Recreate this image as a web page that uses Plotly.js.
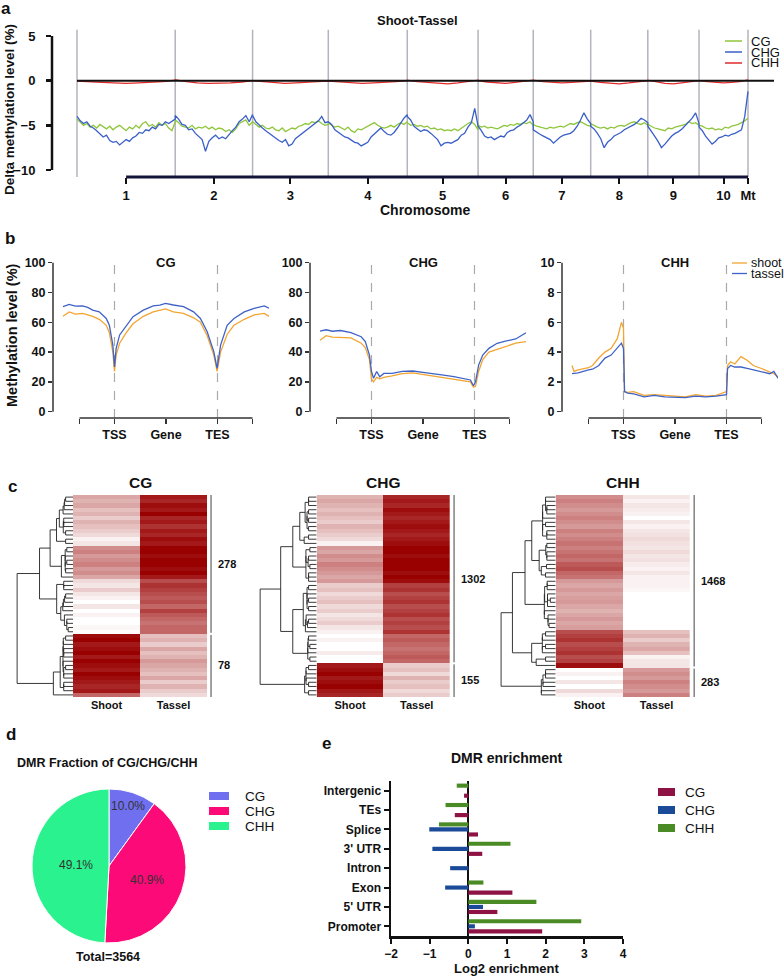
<!DOCTYPE html>
<html>
<head>
<meta charset="utf-8">
<script src="https://cdn.plot.ly/plotly-3.0.1.min.js"></script>
<style>
  body { margin: 0; background: #fff; }
  #chart { width: 784px; height: 976px; }
</style>
</head>
<body>
<div id="chart"></div>
<script>
// ---------- panel a : delta methylation (shoot - tassel) along the genome ----------
let chromLengths = [301, 237, 232, 242, 217, 169, 176, 175, 157, 150]; // Mb
let chromLabels = ['1', '2', '3', '4', '5', '6', '7', '8', '9', '10', 'Mt'];
let contextNames = ['CG', 'CHG', 'CHH'];

let cgDelta = [
  [-4.3,-4.6,-5.0,-4.8,-5.2,-5.0,-5.3,-4.9,-5.2,-5.4,-5.1,-5.5,-5.2,-5.0,-5.3,-5.6,-5.2,-5.4,-5.0,-5.3,-4.8,-4.6,-5.1,-4.9,-5.2,-4.7,-5.0,-4.8,-5.3,-5.6,-4.6],
  [-4.4,-4.7,-5.1,-5.2,-5.3,-5.0,-5.4,-5.2,-5.3,-5.1,-5.4,-5.2,-5.5,-5.3,-5.4,-5.7,-5.5,-5.8,-5.4,-4.8,-4.6,-4.4,-5.0,-4.6],
  [-4.6,-4.9,-5.2,-5.0,-5.3,-5.4,-5.2,-5.5,-5.6,-5.3,-5.7,-5.5,-5.3,-5.4,-5.1,-5.0,-4.8,-4.9,-4.6,-4.7,-4.5,-4.8,-5.0,-4.9],
  [-4.7,-5.0,-5.2,-5.1,-5.3,-5.5,-5.2,-5.6,-5.8,-5.4,-5.5,-5.3,-5.1,-4.9,-4.7,-5.0,-5.2,-5.3,-5.2,-5.0,-5.2,-4.9,-4.7,-4.9,-4.6],
  [-4.7,-5.0,-4.9,-5.1,-5.0,-5.2,-5.1,-5.4,-5.3,-5.5,-5.4,-5.6,-5.5,-5.6,-5.4,-5.6,-5.3,-5.0,-4.8,-4.6,-4.9,-5.5],
  [-5.0,-5.2,-5.1,-5.3,-5.2,-5.3,-5.4,-5.2,-5.0,-5.1,-4.9,-5.0,-4.8,-4.9,-4.7,-4.8,-4.6,-5.0],
  [-4.9,-5.1,-5.2,-5.3,-5.4,-5.2,-5.3,-5.2,-5.1,-5.2,-5.0,-4.8,-4.9,-4.7,-4.6,-4.8,-5.0,-5.1],
  [-4.8,-5.0,-5.2,-5.3,-5.2,-5.4,-5.2,-5.3,-5.1,-5.0,-5.1,-4.9,-4.7,-4.6,-4.8,-4.9,-4.7,-5.0],
  [-4.9,-5.1,-5.3,-5.4,-5.5,-5.6,-5.3,-5.4,-5.2,-5.1,-5.0,-4.9,-4.6,-4.8,-4.7,-5.0],
  [-5.0,-5.1,-5.3,-5.4,-5.3,-5.5,-5.4,-5.5,-5.2,-5.3,-5.1,-5.0,-4.9,-4.7,-4.5,-4.2]
];
let chgDelta = [
  [-4.0,-4.5,-4.8,-4.6,-5.1,-5.3,-5.6,-5.9,-6.3,-6.1,-6.7,-6.9,-6.8,-7.2,-6.9,-6.6,-6.8,-6.4,-6.2,-5.8,-5.9,-5.5,-5.6,-5.2,-5.4,-4.9,-5.0,-4.6,-4.8,-4.5,-4.3],
  [-3.9,-4.3,-4.9,-5.0,-5.5,-5.4,-5.9,-6.3,-6.6,-7.9,-6.8,-6.4,-6.1,-6.5,-6.3,-6.5,-6.0,-5.6,-5.2,-4.6,-4.3,-3.9,-4.6,-3.8],
  [-3.9,-4.6,-5.0,-5.3,-5.6,-5.9,-6.2,-6.5,-6.7,-6.9,-6.6,-7.3,-7.1,-6.5,-6.2,-5.9,-5.6,-5.3,-5.1,-4.7,-4.5,-4.0,-4.7,-4.6],
  [-4.6,-4.9,-5.5,-5.8,-6.1,-6.3,-6.4,-6.7,-6.9,-7.0,-7.3,-7.1,-6.9,-6.3,-6.0,-5.6,-5.3,-5.7,-6.0,-6.1,-5.8,-5.3,-4.7,-4.2,-3.8],
  [-4.0,-4.4,-5.1,-5.4,-5.7,-5.5,-5.6,-5.9,-6.3,-6.6,-7.3,-7.0,-6.9,-7.0,-6.8,-6.6,-6.1,-5.9,-5.2,-4.7,-3.1,-5.0],
  [-5.1,-5.6,-6.2,-6.4,-6.3,-6.6,-6.4,-6.2,-6.3,-5.8,-5.6,-5.5,-5.2,-5.0,-4.7,-4.4,-3.8,-4.6],
  [-5.5,-5.8,-6.0,-6.2,-6.4,-6.6,-7.0,-6.6,-6.3,-6.1,-6.0,-5.9,-5.6,-5.1,-4.4,-3.6,-4.3,-4.8],
  [-5.1,-5.4,-5.9,-6.5,-7.5,-6.9,-6.6,-6.2,-6.0,-5.8,-5.5,-5.3,-5.1,-4.9,-4.6,-4.2,-4.4,-4.7],
  [-5.1,-5.6,-6.2,-6.8,-7.5,-7.1,-6.6,-6.2,-5.9,-5.7,-5.4,-5.0,-4.6,-4.2,-3.6,-4.8],
  [-5.2,-5.6,-6.2,-6.6,-7.1,-6.8,-6.4,-6.3,-6.1,-6.2,-6.0,-5.9,-5.7,-5.5,-4.0,-1.2]
];
let chhDelta = [
  [-0.05,-0.15,-0.2,-0.25,-0.3,-0.25,-0.2,-0.1,0.05],
  [0.1,-0.1,-0.25,-0.3,-0.3,-0.25,-0.15,-0.05],
  [0.0,-0.1,-0.2,-0.3,-0.25,-0.15,-0.1,-0.05],
  [-0.05,-0.15,-0.25,-0.3,-0.25,-0.2,-0.1,0.0],
  [0.05,-0.1,-0.2,-0.3,-0.35,-0.25,-0.1,0.05],
  [0.0,-0.15,-0.25,-0.3,-0.2,-0.1,0.0],
  [0.05,-0.1,-0.2,-0.25,-0.2,-0.15,-0.05],
  [-0.05,-0.2,-0.3,-0.35,-0.25,-0.15,0.0],
  [0.05,-0.15,-0.3,-0.35,-0.25,-0.1,0.0],
  [0.0,-0.1,-0.2,-0.25,-0.2,-0.1,0.1]
];

// ---------- panel b : metaplots over genes ----------
let profileLabels = ['TSS', 'Gene', 'TES'];
let tissueNames = ['shoot', 'tassel'];
let cgPos =     [0,3,6,9.5,12,14.4,17.6,21,22.5,24.2,25,25.8,27.5,30.7,34,39,43.8,47,49.8,53.6,58.5,63.4,66.7,70,73.2,74.8,76.5,79.7,83,88,92.8,97.7,100];
let cgTassel =  [70.5,72,70.8,71,70,68.2,67,62.6,58,44.7,30,42.5,51.5,58,63.8,68.2,71,71.5,72.7,71.6,70.5,67,62.6,53.7,40.3,29,44.7,58,62.6,67,69.4,71,69.4];
let cgShoot =   [64,67,65.5,66,65,64,62,58,53,40,27,38,46,53,59,64,67,68,69,67,66,63,60,51,38,27,40,52,58,62,65,66,64];
let chgPos =    [0,3,6,10,15,20,22,24,25,26,27.5,29,31,35,40,45,50,55,60,65,70,73,74.5,75.5,77,79,82,86,90,95,100];
let chgTassel = [54,55,54,54.5,53,50.3,47,38,27,22.4,27,23.5,25.7,25.7,27,27.3,26.4,25.7,24.6,23.5,22.4,21.3,17.4,20,31.3,38,42.5,45.9,47.4,48.8,53];
let chgShoot =  [48,51,50,50,49.5,46,43,35,22,20,23,22,23,24,25.5,26,25,24,23,22,21,20,16.5,17,27,35,40,42,44,46,47];
let chhPos =    [0,1,3,8,10,13,16,19,22,24,25,25.5,27,30,35,40,45,50,55,60,65,70,74,75,75.5,77,79,82,85,88,92,96,98,100];
let chhShoot =  [3.1,2.7,2.8,2.95,3.1,3.6,4.0,4.25,4.9,6.0,5.6,1.34,1.3,1.35,1.1,1.15,1.1,1.05,1.0,1.15,1.05,1.1,1.3,1.35,3.1,3.35,3.2,3.7,3.45,3.1,2.9,2.7,2.55,2.35];
let chhTassel = [2.55,2.55,2.6,2.8,2.85,3.1,3.6,3.8,4.25,4.6,4.25,1.35,1.25,1.2,1.0,1.1,1.0,1.0,0.95,1.05,1.0,1.05,1.1,1.15,2.9,3.1,3.0,3.0,2.9,2.8,2.7,2.55,2.7,2.25];

// ---------- panel c : DMR heatmaps (rows top to bottom) ----------
let heatColumns = ['Shoot', 'Tassel'];
let cgShootRows =  [0.35,0.3,0.35,0.25,0.3,0.2,0.3,0.25,0.2,0.15,0.05,0.1,0.45,0.5,0.4,0.45,0.5,0.4,0.45,0.35,0.15,0.1,0.2,0.1,0.05,0,0.1,0,0.05,0,0,0.03,0,0.95,1,0.9,0.95,1,0.9,1,0.95,0.9,1,0.95,0.9,0.85,0.9,0.6];
let cgTasselRows = [0.9,0.85,0.95,0.9,1,0.85,0.9,0.8,0.9,0.85,0.95,0.9,1,1,0.95,1,1,0.95,1,0.9,0.7,0.8,0.75,0.7,0.65,0.7,0.6,0.75,0.65,0.6,0.55,0.6,0.6,0.25,0.3,0.2,0.35,0.25,0.3,0.4,0.35,0.3,0.25,0.35,0.2,0.3,0.2,0.15];
let cgGroupRows = [33, 15];
let cgGroupCounts = [278, 78];
let chgShootRows =  [0.3,0.35,0.3,0.25,0.3,0.25,0.2,0.3,0.25,0.2,0.15,0.05,0.4,0.35,0.45,0.4,0.5,0.45,0.4,0.35,0.4,0.2,0.25,0.15,0.2,0.25,0.15,0.2,0.1,0.15,0.2,0.1,0.05,0,0.05,0,0,0.08,0,0,0.9,0.95,1,0.9,0.95,1,0.9,0.85];
let chgTasselRows = [0.85,0.9,0.85,0.95,0.9,0.85,0.9,0.95,0.9,0.85,0.9,0.95,1,1,0.95,1,1,1,0.95,1,0.95,0.75,0.8,0.7,0.75,0.8,0.7,0.75,0.8,0.7,0.75,0.7,0.8,0.6,0.65,0.6,0.55,0.6,0.65,0.6,0.2,0.25,0.15,0.3,0.2,0.25,0.15,0.2];
let chgGroupRows = [40, 8];
let chgGroupCounts = [1302, 155];
let chhShootRows =  [0.45,0.5,0.45,0.4,0.45,0.5,0.45,0.4,0.5,0.45,0.5,0.55,0.5,0.55,0.6,0.55,0.65,0.7,0.6,0.55,0.4,0.35,0.4,0.35,0.38,0.4,0.35,0.3,0.35,0.4,0.35,0.38,0.7,0.75,0.8,0.7,0.75,0.8,0.7,0.75,0.95,0,0.05,0,0.1,0,0.15,0.05];
let chhTasselRows = [0.1,0.05,0.1,0.08,0.05,0,0.1,0.05,0.1,0.12,0.15,0.12,0.1,0.15,0.1,0.12,0.08,0.05,0.1,0.05,0.05,0.05,0.03,0,0,0,0,0,0,0,0,0,0.25,0.3,0.2,0.3,0.35,0.25,0.05,0.1,0.1,0.4,0.45,0.4,0.5,0.45,0.4,0.5];
let chhGroupRows = [41, 7];
let chhGroupCounts = [1468, 283];

// ---------- panel d : DMR fraction ----------
let dmrContexts = ['CG', 'CHG', 'CHH'];
let dmrCounts = [356, 1457, 1751];
let pieLabelRadius = [0.82, 0.53, 0.43]; // where each % label sits, fraction of radius

// ---------- panel e : DMR enrichment (bottom to top) ----------
let enrichFeatures = ['Promoter', "5' UTR", 'Exon', 'Intron', "3' UTR", 'Splice', 'TEs', 'Intergenic'];
let cgEnrich =  [1.91, 0.75, 1.14, 0, 0.36, 0.25, -0.35, -0.11];
let chgEnrich = [0.17, 0.38, -0.60, -0.47, -0.93, -1.01, 0, 0];
let chhEnrich = [2.92, 1.76, 0.39, 0, 1.09, -0.76, -0.59, -0.30];
let enrichTicks = [-2, -1, 0, 1, 2, 3, 4];

// ---------- helpers ----------
const W = 784, H = 976;
const FONT = 'Liberation Sans, Arial, Helvetica, sans-serif';
function px(v) { return v / W; }
function py(v) { return 1 - v / H; }
function frac(v, r) { return (v - r[0]) / (r[1] - r[0]); }

let traces = [];
let shapes = [];
let annotations = [];
let layout = {
  width: W, height: H,
  margin: {l: 0, r: 0, t: 0, b: 0},
  paper_bgcolor: '#fff', plot_bgcolor: 'rgba(0,0,0,0)',
  showlegend: false,
  font: {family: FONT, color: '#111'},
  barmode: 'group', bargap: 0.22, bargroupgap: 0.18
};

function text(t, x, y, size, extra) {
  let a = {text: t, x: px(x), y: py(y), xref: 'paper', yref: 'paper', showarrow: false,
    font: {family: FONT, size: size, color: '#111'}, xanchor: 'center', yanchor: 'middle'};
  Object.assign(a, extra || {});
  annotations.push(a);
}
function boldTicks(size) {
  return {family: FONT, size: size, color: '#111', weight: 'bold'};
}

// panel letters
text('<b>a</b>', 6, 8, 17);
text('<b>b</b>', 10, 239, 17);
text('<b>c</b>', 12, 486, 17);
text('<b>d</b>', 11, 734, 17);
text('<b>e</b>', 326, 743, 17);

// ================= panel a =================
let chromStarts = [0];
for (let i = 0; i < chromLengths.length; i++) {
  chromStarts.push(chromStarts[i] + chromLengths[i]);
}
let genomeEnd = chromStarts[chromStarts.length - 1];
let chromCenters = [];
for (let i = 0; i < chromLengths.length; i++) {
  chromCenters.push(chromStarts[i] + chromLengths[i] / 2);
}
chromCenters.push(genomeEnd); // Mt

function genomeTrace(perChrom) {
  let xs = [], ys = [];
  for (let c = 0; c < perChrom.length; c++) {
    let vals = perChrom[c];
    for (let i = 0; i < vals.length; i++) {
      xs.push(chromStarts[c] + chromLengths[c] * i / (vals.length - 1));
      ys.push(vals[i]);
    }
  }
  return {x: xs, y: ys};
}

let aColors = ['#8fc63c', '#3a5fc8', '#e02a2a'];
let aSeries = [cgDelta, chgDelta, chhDelta];
let aRangeX = [-76.6, 2135.7];
let aRangeY = [-10.784, 5.896];
for (let k = 0; k < aSeries.length; k++) {
  let g = genomeTrace(aSeries[k]);
  traces.push({type: 'scatter', mode: 'lines', x: g.x, y: g.y, xaxis: 'x', yaxis: 'y',
    name: contextNames[k], line: {color: aColors[k], width: 1.3}, hoverinfo: 'skip'});
}
layout.xaxis = {domain: [px(52), px(774)], range: aRangeX, anchor: 'y',
  tickvals: chromCenters, ticktext: chromLabels, ticks: 'outside', ticklen: 6, tickwidth: 2,
  tickcolor: '#111', showline: false, showgrid: false, zeroline: false, tickfont: boldTicks(13)};
layout.yaxis = {domain: [py(177), py(28)], range: aRangeY, anchor: 'x',
  tickvals: [-10, -5, 0, 5], ticks: 'outside', ticklen: 5, tickwidth: 2.5, tickcolor: '#111',
  ticklabelstandoff: 8, showline: false, showgrid: false, zeroline: false, tickfont: boldTicks(13)};

for (let i = 0; i < chromStarts.length; i++) {
  shapes.push({type: 'line', xref: 'x', yref: 'y', x0: chromStarts[i], x1: chromStarts[i],
    y0: aRangeY[0], y1: 5.7, line: {color: '#b4b4bc', width: 1.5}, layer: 'below'});
}
shapes.push({type: 'line', xref: 'x', yref: 'y', x0: 0, x1: aRangeX[1], y0: 0, y1: 0,
  line: {color: '#111', width: 2}});
shapes.push({type: 'line', xref: 'x domain', yref: 'y domain', x0: 0, x1: 0,
  y0: frac(-10, aRangeY), y1: frac(5, aRangeY), line: {color: '#111', width: 2.5}});
shapes.push({type: 'line', xref: 'x domain', yref: 'y domain',
  x0: frac(chromCenters[0], aRangeX), x1: frac(genomeEnd, aRangeX), y0: 0, y1: 0,
  line: {color: '#14143a', width: 3}});

text('<b>Shoot-Tassel</b>', 417, 21, 13);
text('<b>Chromosome</b>', 425, 210, 14);
text('<b>Delta methylation level (%)</b>', 9, 110, 13.5, {textangle: -90});
for (let k = 0; k < contextNames.length; k++) {
  let yy = 41 + 11 * k;
  shapes.push({type: 'line', xref: 'paper', yref: 'paper', x0: px(725), x1: px(742),
    y0: py(yy), y1: py(yy), line: {color: aColors[k], width: 1.5}});
  text(contextNames[k], 749, yy, 13, {xanchor: 'left'});
}

// ================= panel b =================
let shootColor = '#f2a531', tasselColor = '#3f62c6';
let bPanels = [
  {title: 'CG', pos: cgPos, shoot: cgShoot, tassel: cgTassel, ymax: 100, left: 53},
  {title: 'CHG', pos: chgPos, shoot: chgShoot, tassel: chgTassel, ymax: 100, left: 310},
  {title: 'CHH', pos: chhPos, shoot: chhShoot, tassel: chhTassel, ymax: 10, left: 562}
];
let bRangeX = [-4.85, 100];
for (let i = 0; i < bPanels.length; i++) {
  let p = bPanels[i];
  let n = i + 2;
  let xa = 'x' + n, ya = 'y' + n;
  let rY = [-0.0423 * p.ymax, 1.0315 * p.ymax];
  let step = p.ymax / 5;
  let yt = [];
  for (let v = 0; v <= p.ymax + 1e-9; v += step) yt.push(v);
  traces.push({type: 'scatter', mode: 'lines', x: p.pos, y: p.shoot, xaxis: xa, yaxis: ya,
    line: {color: shootColor, width: 1.3}, hoverinfo: 'skip'});
  traces.push({type: 'scatter', mode: 'lines', x: p.pos, y: p.tassel, xaxis: xa, yaxis: ya,
    line: {color: tasselColor, width: 1.3}, hoverinfo: 'skip'});
  layout['xaxis' + n] = {domain: [px(p.left), px(p.left + 216)], range: bRangeX, anchor: ya,
    tickvals: [8, 25, 50, 75, 92], ticktext: [''].concat(profileLabels, ['']),
    ticks: 'outside', ticklen: 5, tickwidth: 1.5, tickcolor: '#333',
    showline: false, showgrid: false, zeroline: false, tickfont: boldTicks(12.5)};
  layout['yaxis' + n] = {domain: [py(418), py(258)], range: rY, anchor: xa,
    tickvals: yt, ticks: 'outside', ticklen: 4, tickwidth: 1.5, tickcolor: '#333',
    showline: false, showgrid: false, zeroline: false, tickfont: boldTicks(12.5)};
  let xd = xa + ' domain', yd = ya + ' domain';
  shapes.push({type: 'line', xref: xd, yref: yd, x0: 0, x1: 0, y0: frac(0, rY), y1: frac(p.ymax, rY),
    line: {color: '#333', width: 1.5}});
  shapes.push({type: 'line', xref: xd, yref: yd, x0: frac(8, bRangeX), x1: frac(92, bRangeX), y0: 0, y1: 0,
    line: {color: '#333', width: 1.5}});
  for (let m of [25, 75]) {
    shapes.push({type: 'line', xref: xd, yref: yd, x0: frac(m, bRangeX), x1: frac(m, bRangeX), y0: 0, y1: 1,
      line: {color: '#aaaaaa', width: 1.2, dash: 'dash'}, layer: 'below'});
  }
  annotations.push({text: '<b>' + p.title + '</b>', xref: xa, yref: 'paper', x: 50, y: py(253),
    showarrow: false, font: {family: FONT, size: 13, color: '#111'}});
}
text('<b>Methylation level (%)</b>', 12, 335, 14.5, {textangle: -90});
let bLegendColors = [shootColor, tasselColor];
for (let k = 0; k < tissueNames.length; k++) {
  let yy = 263 + 10.5 * k;
  shapes.push({type: 'line', xref: 'paper', yref: 'paper', x0: px(732), x1: px(747),
    y0: py(yy), y1: py(yy), line: {color: bLegendColors[k], width: 1.3}});
  text(tissueNames[k], 749, yy, 12.5, {xanchor: 'left'});
}

// ================= panel c =================
// order-preserving Ward clustering: merge the closest neighbouring clusters
function buildDendrogram(rows) {
  let clusters = [];
  for (let i = 0; i < rows.length; i++) {
    clusters.push({n: 1, m: rows[i].slice(), h: 0, y: i});
  }
  let xs = [], ys = [];
  while (clusters.length > 1) {
    let best = 0, bestD = Infinity;
    for (let i = 0; i < clusters.length - 1; i++) {
      let a = clusters[i], b = clusters[i + 1];
      let d2 = 0;
      for (let k = 0; k < a.m.length; k++) d2 += (a.m[k] - b.m[k]) * (a.m[k] - b.m[k]);
      let d = Math.sqrt(2 * a.n * b.n / (a.n + b.n) * d2);
      if (d < bestD) { bestD = d; best = i; }
    }
    let a = clusters[best], b = clusters[best + 1];
    let h = Math.max(Math.sqrt(bestD), a.h, b.h);
    xs.push(a.h, h, h, b.h, null);
    ys.push(a.y, a.y, b.y, b.y, null);
    let n = a.n + b.n;
    let m = a.m.map((v, k) => (v * a.n + b.m[k] * b.n) / n);
    clusters.splice(best, 2, {n: n, m: m, h: h, y: (a.y + b.y) / 2});
  }
  return {x: xs, y: ys, top: clusters[0].h};
}

let heatPanels = [
  {title: 'CG', shoot: cgShootRows, tassel: cgTasselRows, groups: cgGroupRows, counts: cgGroupCounts, dendro: [16, 73], heatEnd: 240.5},
  {title: 'CHG', shoot: chgShootRows, tassel: chgTasselRows, groups: chgGroupRows, counts: chgGroupCounts, dendro: [259, 316.7], heatEnd: 483.4},
  {title: 'CHH', shoot: chhShootRows, tassel: chhTasselRows, groups: chhGroupRows, counts: chhGroupCounts, dendro: [500, 555.7], heatEnd: 723.7}
];
for (let i = 0; i < heatPanels.length; i++) {
  let p = heatPanels[i];
  let nd = 5 + 2 * i, nh = 6 + 2 * i;
  let xd = 'x' + nd, xh = 'x' + nh, yy = 'y' + nd;
  let rows = [], idx = [];
  for (let r = 0; r < p.shoot.length; r++) {
    rows.push([p.shoot[r], p.tassel[r]]);
    idx.push(r);
  }
  let nRows = rows.length;
  let tree = buildDendrogram(rows);
  traces.push({type: 'scatter', mode: 'lines', x: tree.x, y: tree.y, xaxis: xd, yaxis: yy,
    line: {color: '#222', width: 0.9}, hoverinfo: 'skip', connectgaps: false});
  traces.push({type: 'heatmap', x: [0, 1], y: idx, z: rows, xaxis: xh, yaxis: yy,
    colorscale: [[0, '#ffffff'], [1, '#990000']], zmin: 0, zmax: 1, showscale: false, hoverinfo: 'skip'});
  // brackets + counts
  let bx = [], by = [];
  let start = 0;
  for (let g = 0; g < p.groups.length; g++) {
    let end = start + p.groups[g];
    let y0 = start - 0.5 + (g > 0 ? 0.25 : 0);
    let y1 = end - 0.5 - (g < p.groups.length - 1 ? 0.25 : 0);
    bx.push(1.56, 1.56, null);
    by.push(y0, y1, null);
    annotations.push({text: '<b>' + p.counts[g] + '</b>', xref: xh, yref: yy, x: 1.63, y: (start + end - 1) / 2,
      xanchor: 'left', showarrow: false, font: {family: FONT, size: 11, color: '#111'}});
    start = end;
  }
  traces.push({type: 'scatter', mode: 'lines', x: bx, y: by, xaxis: xh, yaxis: yy,
    line: {color: '#444', width: 1}, hoverinfo: 'skip'});
  layout['xaxis' + nd] = {domain: [px(p.dendro[0]), px(p.dendro[1])], range: [tree.top * 1.02, 0],
    anchor: yy, visible: false};
  layout['xaxis' + nh] = {domain: [px(p.dendro[1]), px(p.heatEnd)], range: [-0.5, 2.0], anchor: yy,
    tickvals: [0, 1], ticktext: heatColumns, ticks: '', showline: false, showgrid: false, zeroline: false,
    tickfont: boldTicks(11)};
  layout['yaxis' + nd] = {domain: [py(697), py(495)], range: [nRows - 0.5, -0.5], anchor: xd, visible: false};
  annotations.push({text: '<b>' + p.title + '</b>', xref: xh, yref: 'paper', x: 0.5, y: py(483),
    showarrow: false, font: {family: FONT, size: 15.5, color: '#111'}});
}

// ================= panel d =================
let pieColors = ['#6f6ff0', '#fb0a78', '#2af28e'];
let pieCx = 109, pieCy = 866, pieR = 77;
traces.push({type: 'pie', labels: dmrContexts, values: dmrCounts, sort: false, direction: 'clockwise',
  rotation: 0, marker: {colors: pieColors, line: {color: '#fff', width: 1}},
  textinfo: 'none', domain: {x: [px(pieCx - pieR), px(pieCx + pieR)], y: [py(pieCy + pieR), py(pieCy - pieR)]},
  hoverinfo: 'none', showlegend: false});
let dmrTotal = 0;
for (let v of dmrCounts) dmrTotal += v;
let cum = 0;
for (let k = 0; k < dmrCounts.length; k++) {
  let share = dmrCounts[k] / dmrTotal;
  let mid = (cum + share / 2) * 2 * Math.PI; // clockwise from 12 o'clock
  cum += share;
  let rr = pieLabelRadius[k] * pieR;
  text((share * 100).toFixed(1) + '%', pieCx + rr * Math.sin(mid), pieCy - rr * Math.cos(mid), 12,
    {font: {family: FONT, size: 12, color: '#333'}});
}
text('<b>DMR Fraction of CG/CHG/CHH</b>', 108, 763, 12.5);
text('<b>Total=' + dmrTotal + '</b>', 108, 957, 12.5);
for (let k = 0; k < dmrContexts.length; k++) {
  let yy = 796 + 15 * k;
  shapes.push({type: 'rect', xref: 'paper', yref: 'paper', x0: px(209), x1: px(229),
    y0: py(yy + 4), y1: py(yy - 4), fillcolor: pieColors[k], line: {width: 0}});
  text(dmrContexts[k], 243, yy, 13.5, {xanchor: 'left'});
}

// ================= panel e =================
let barColors = ['#8e1244', '#1b4b98', '#4b8b26'];
let enrichSeries = [cgEnrich, chgEnrich, chhEnrich];
for (let k = 0; k < enrichSeries.length; k++) {
  traces.push({type: 'bar', orientation: 'h', y: enrichFeatures, x: enrichSeries[k],
    xaxis: 'x11', yaxis: 'y11', name: contextNames[k], hoverinfo: 'skip',
    marker: {color: barColors[k], line: {width: 0}}});
}
layout.xaxis11 = {domain: [px(391), px(623)], range: [-2, 4], anchor: 'y11',
  tickvals: enrichTicks, ticks: 'outside', ticklen: 5, tickwidth: 2, tickcolor: '#111',
  showline: true, linewidth: 2.5, linecolor: '#111', showgrid: false,
  zeroline: true, zerolinecolor: '#111', zerolinewidth: 2, tickfont: boldTicks(12)};
layout.yaxis11 = {domain: [py(936), py(781)], range: [-0.5, enrichFeatures.length - 0.5], anchor: 'x11',
  type: 'category', ticks: 'outside', ticklen: 5, tickwidth: 2, tickcolor: '#111',
  showline: true, linewidth: 2.5, linecolor: '#111', showgrid: false, zeroline: false,
  tickfont: boldTicks(12)};
text('<b>DMR enrichment</b>', 507, 758, 14);
text('<b>Log2 enrichment</b>', 507, 968, 13);
for (let k = 0; k < contextNames.length; k++) {
  let yy = 792 + 18 * k;
  shapes.push({type: 'rect', xref: 'paper', yref: 'paper', x0: px(658), x1: px(675),
    y0: py(yy + 4), y1: py(yy - 4), fillcolor: barColors[k], line: {width: 0}});
  text(contextNames[k], 683, yy, 13.5, {xanchor: 'left'});
}

layout.shapes = shapes;
layout.annotations = annotations;
Plotly.newPlot('chart', traces, layout, {staticPlot: true, displayModeBar: false});
</script>
</body>
</html>
